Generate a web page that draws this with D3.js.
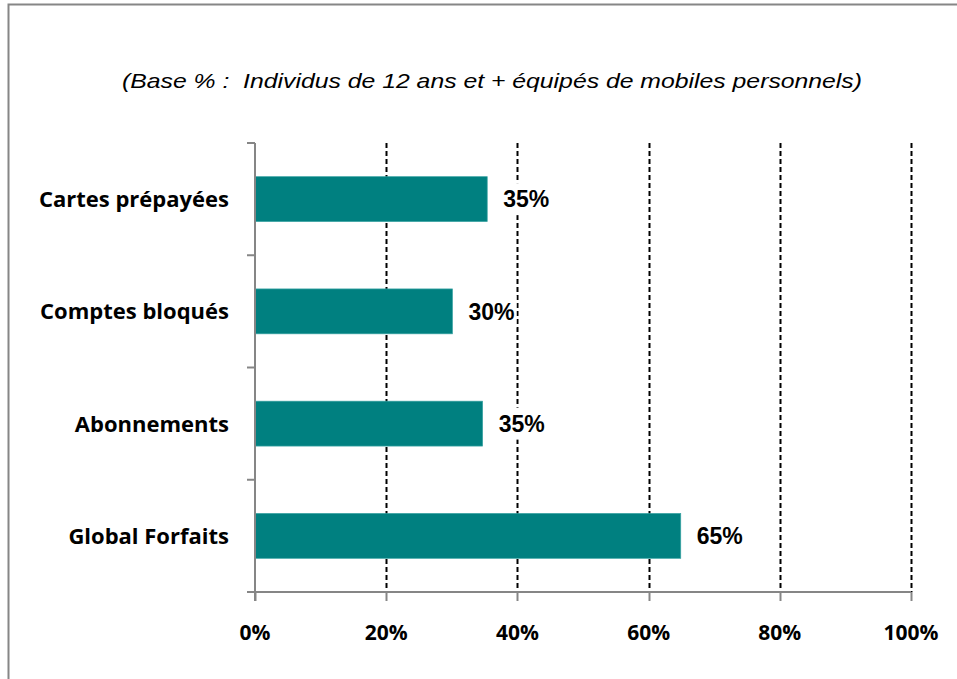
<!DOCTYPE html>
<html>
<head>
<meta charset="utf-8">
<script src="https://cdn.jsdelivr.net/npm/d3@7"></script>
<style>
  body { margin: 0; background: #fff; }
</style>
</head>
<body>
<svg width="957" height="679"></svg>
<script>
// data
const categories = ["Cartes prépayées", "Comptes bloqués", "Abonnements", "Global Forfaits"];
const values = [35.4, 30.1, 34.7, 64.9];
const valueLabels = ["35%", "30%", "35%", "65%"];
const xTicks = [0, 20, 40, 60, 80, 100];
const title = "(Base % :  Individus de 12 ans et + équipés de mobiles personnels)";

let svg = d3.select("svg"),
    width = +svg.attr("width"),
    height = +svg.attr("height");

// outer frame
svg.append("rect")
    .attr("x", 8.5).attr("y", 4.5)
    .attr("width", 1000).attr("height", 1000)
    .attr("fill", "none")
    .attr("stroke", "#868686")
    .attr("stroke-width", 2);

// title
svg.append("text")
    .attr("x", 492).attr("y", 88)
    .attr("text-anchor", "middle")
    .attr("textLength", 740)
    .attr("lengthAdjust", "spacingAndGlyphs")
    .style("white-space", "pre")
    .style("font-family", "'Liberation Sans', Arial, sans-serif")
    .style("font-style", "italic")
    .style("font-size", "21px")
    .style("fill", "#000")
    .text(title);

const plotL = 255, plotR = 911, plotT = 143, plotB = 592;

let x = d3.scaleLinear().domain([0, 100]).range([plotL, plotR]);
let y = d3.scaleBand().domain(categories).range([plotT, plotB]).paddingInner(0.6).paddingOuter(0.3);

// dashed gridlines
svg.append("g")
    .selectAll("line")
    .data(xTicks.filter(d => d > 0))
    .enter()
    .append("line")
    .attr("x1", d => Math.round(x(d)) + 0.5)
    .attr("x2", d => Math.round(x(d)) + 0.5)
    .attr("y1", plotT)
    .attr("y2", plotB)
    .attr("stroke", "#000")
    .attr("stroke-width", 2)
    .attr("stroke-dasharray", "5,3");

// bars
svg.append("g")
    .selectAll("rect")
    .data(categories)
    .enter()
    .append("rect")
    .attr("x", plotL)
    .attr("y", d => y(d))
    .attr("width", (d, i) => x(values[i]) - plotL)
    .attr("height", y.bandwidth())
    .attr("fill", "#008080")
    .attr("stroke", "#3aa3a3")
    .attr("stroke-width", 0.7);

// value labels (white box hides the gridline behind them)
let lbl = svg.append("g")
    .selectAll("g")
    .data(categories)
    .enter()
    .append("g")
    .attr("transform", (d, i) => `translate(${x(values[i]) + 16},${y(d) + y.bandwidth() / 2})`);
let lblBox = lbl.append("rect").attr("fill", "#fff");
lbl.append("text")
    .attr("dy", "0.36em")
    .style("font-family", "'Liberation Sans', Arial, sans-serif")
    .style("font-weight", "bold")
    .style("font-size", "23px")
    .text((d, i) => valueLabels[i]);
lbl.each(function () {
    let b = d3.select(this).select("text").node().getBBox();
    d3.select(this).select("rect")
        .attr("x", b.x - 2).attr("y", -16)
        .attr("width", b.width + 4).attr("height", 32);
});

// y axis
let yEdges = d3.scaleLinear().domain([0, categories.length]).range([plotT, plotB]);
let yAxis = svg.append("g");
yAxis.append("line")
    .attr("x1", plotL).attr("x2", plotL)
    .attr("y1", plotT).attr("y2", plotB + 9)
    .attr("stroke", "#868686").attr("stroke-width", 2);
yAxis.selectAll(".ytick")
    .data(d3.range(categories.length + 1))
    .enter()
    .append("line")
    .attr("x1", plotL - 8).attr("x2", plotL)
    .attr("y1", d => yEdges(d)).attr("y2", d => yEdges(d))
    .attr("stroke", "#868686").attr("stroke-width", 2);
yAxis.selectAll("text")
    .data(categories)
    .enter()
    .append("text")
    .attr("x", 229)
    .attr("y", d => y(d) + y.bandwidth() / 2)
    .attr("dy", "0.36em")
    .attr("text-anchor", "end")
    .style("font-family", "'Open Sans', Lato, sans-serif")
    .style("font-weight", "bold")
    .style("font-size", "22px")
    .text(d => d);

// x axis
let xAxis = svg.append("g");
xAxis.append("line")
    .attr("x1", plotL).attr("x2", plotR)
    .attr("y1", plotB).attr("y2", plotB)
    .attr("stroke", "#868686").attr("stroke-width", 2);
xAxis.selectAll(".xtick")
    .data(xTicks)
    .enter()
    .append("line")
    .attr("x1", d => Math.round(x(d)) + 0.5).attr("x2", d => Math.round(x(d)) + 0.5)
    .attr("y1", plotB).attr("y2", plotB + 9)
    .attr("stroke", "#868686").attr("stroke-width", 2);
xAxis.selectAll("text")
    .data(xTicks)
    .enter()
    .append("text")
    .attr("x", d => x(d))
    .attr("y", 632)
    .attr("dy", "0.36em")
    .attr("text-anchor", "middle")
    .style("font-family", "'Open Sans', Lato, sans-serif")
    .style("font-weight", "bold")
    .style("font-size", "21px")
    .text(d => d + "%");
</script>
</body>
</html>
